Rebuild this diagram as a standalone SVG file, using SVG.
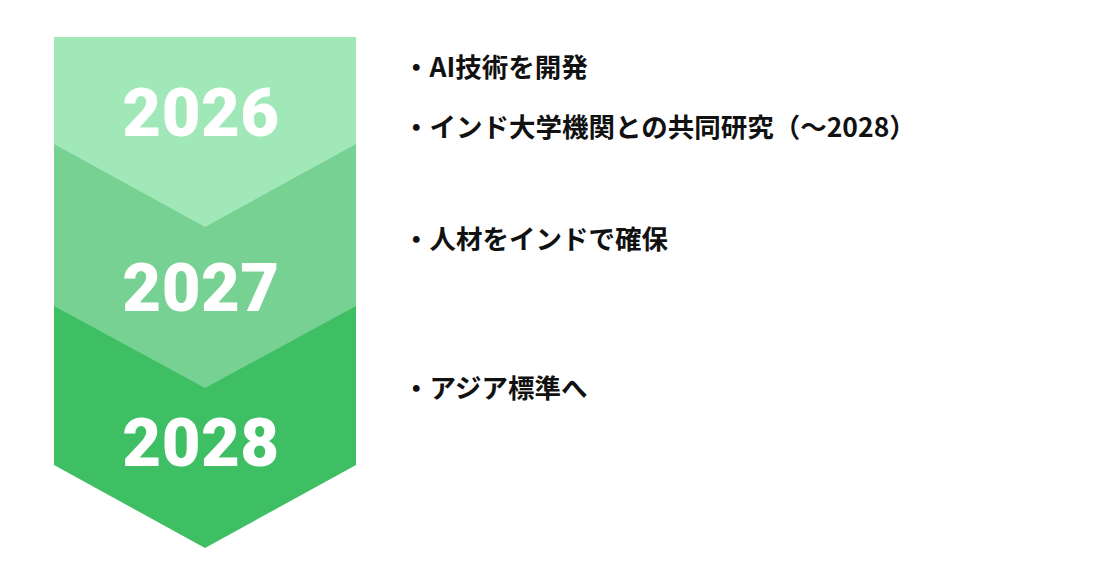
<svg xmlns="http://www.w3.org/2000/svg" width="1097" height="578" viewBox="0 0 1097 578">
<style>
.year{font-family:Roboto,"Noto Sans",sans-serif;font-weight:900;font-size:67px;fill:#ffffff;text-anchor:middle;letter-spacing:0.5px}
.item{font-family:"Noto Sans CJK JP","Noto Sans",sans-serif;font-weight:700;font-size:26.5px;fill:#111111}
</style>
<rect width="1097" height="578" fill="#ffffff"/>
<g id="step-2028">
<polygon points="54,300 356,300 356,465 205,548 54,465" fill="#3fbf64"/>
<text class="year" x="201" y="466">2028</text>
</g>
<g id="step-2027">
<polygon points="54,140 356,140 356,306 205,388 54,306" fill="#76d193"/>
<text class="year" x="201" y="311">2027</text>
</g>
<g id="step-2026">
<polygon points="54,37 356,37 356,144 205,227 54,144" fill="#a1e8b9"/>
<text class="year" x="201" y="136">2026</text>
</g>
<g id="connectors"></g>
<g id="notes">
<text class="item" x="403" y="77">・AI技術を開発</text>
<text class="item" x="403" y="137">・インド大学機関との共同研究（～2028）</text>
<text class="item" x="403" y="249">・人材をインドで確保</text>
<text class="item" x="403" y="398">・アジア標準へ</text>
</g>
</svg>
